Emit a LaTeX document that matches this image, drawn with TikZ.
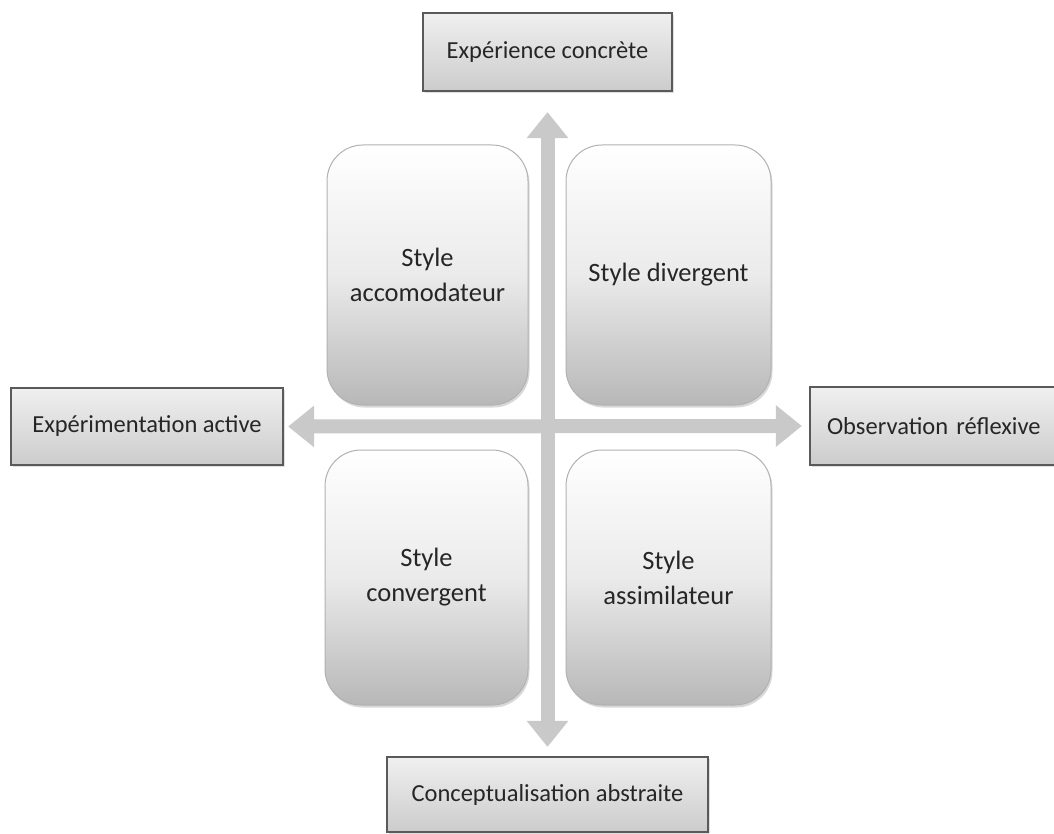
\documentclass[tikz,border=0pt]{standalone}
\usepackage{fontspec}
\setmainfont{Carlito}
\usetikzlibrary{arrows.meta,shadows}
\definecolor{arrowgray}{HTML}{C9C9C9}
\definecolor{edgegray}{HTML}{5A5A5A}
\tikzset{
  labelbox/.style={draw=edgegray, line width=2.2pt, top color=black!6, bottom color=black!20,
    inner sep=0pt, font=\fontsize{24.5}{28}\selectfont, text=black!85,
    drop shadow={opacity=0.25, shadow xshift=2pt, shadow yshift=-2pt}},
  stylebox/.style={draw=black!30, line width=1pt, rounded corners=36pt,
    top color=white, bottom color=black!28, middle color=white!92!black,
    inner sep=0pt, align=center, font=\fontsize{26.5}{35}\selectfont, text=black!85,
    drop shadow={opacity=0.3, shadow xshift=1.5pt, shadow yshift=-2.5pt}},
  bigarrow/.style={draw=arrowgray, line width=14pt,
    {Triangle[width=40pt,length=26pt]}-{Triangle[width=40pt,length=26pt]}}
}
\begin{document}
\begin{tikzpicture}[x=1pt,y=-1pt]
\useasboundingbox (0,0) rectangle (1054,834);
\fill[white] (0,0) rectangle (1054,834);
% outer labels
\node[labelbox, minimum width=249pt, minimum height=78pt] (top) at (547.5,52) {Expérience concrète};
\node[labelbox, minimum width=272pt, minimum height=77pt] (left) at (147,426.5) {Expérimentation active};
\node[labelbox, minimum width=250pt, minimum height=78pt, text width=244pt, align=left, inner xsep=0pt] (right) at (935,426) {\hspace*{14pt}Observation réflexive};
\node[labelbox, minimum width=321pt, minimum height=75pt] (bottom) at (547.5,794.5) {Conceptualisation abstraite};
% arrows
\draw[bigarrow, shorten <=20pt, shorten >=9pt] (top.south) -- (bottom.north);
\draw[bigarrow, shorten <=4pt, shorten >=7pt] (left.east) -- (right.west);
% style boxes
\node[stylebox, minimum width=201pt, minimum height=260pt] (acc) at (427.5,275) {Style\\accomodateur};
\node[stylebox, minimum width=205pt, minimum height=260pt] (div) at (668.5,275) {Style divergent};
\node[stylebox, minimum width=203pt, minimum height=255pt] (conv) at (426.5,577.5) {Style\\convergent};
\node[stylebox, minimum width=205pt, minimum height=255pt] (assim) at (668.5,577.5) {Style\\assimilateur};
\end{tikzpicture}
\end{document}
